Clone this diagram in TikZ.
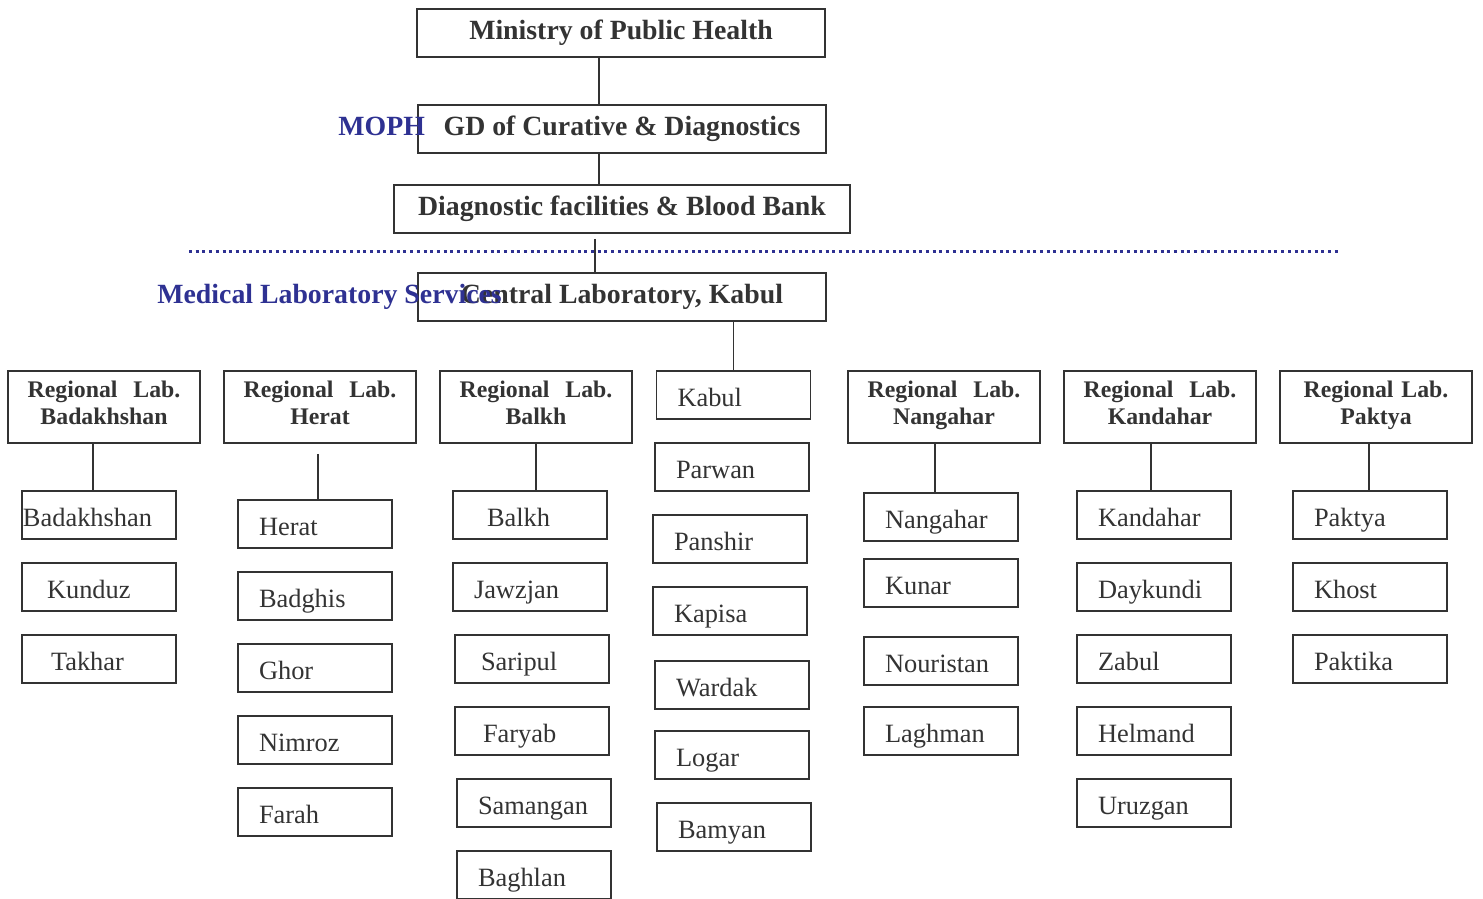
\documentclass[tikz,border=0pt]{standalone}
\usepackage{fontspec}
\setmainfont{Liberation Serif}
\usepackage{xcolor}
\usepackage{tikz}
\usetikzlibrary{positioning}
\definecolor{labblue}{HTML}{2E3192}
\definecolor{boxgray}{HTML}{333333}

\begin{document}
\begin{tikzpicture}[x=0.5pt, y=-0.5pt,
        every node/.style={text=boxgray},
        topbox/.style={draw=boxgray, line width=0.9pt, 
        minimum width=204pt, 
        minimum height=24pt, 
        inner sep=0pt,
        font=\fontsize{13.9}{16}\selectfont\bfseries},
        regbox/.style={draw=boxgray, line width=0.9pt, 
        minimum width=96pt, 
        minimum height=36pt, 
        text width=90pt, inner xsep=3pt, 
        text height=8pt, text depth=18pt,
        align=center,
        font=\fontsize{11.9}{13.5}\selectfont\bfseries},
        distbox/.style={draw=boxgray, line width=0.9pt, 
        minimum height=24pt, 
        text width=56pt, inner xsep=10.5pt, 
        text height=12pt, text depth=1pt,
        align=left,
        font=\fontsize{13.2}{15}\selectfont},
        bluelabel/.style={text=labblue, anchor=base west, inner sep=0pt,
        font=\fontsize{13.9}{16}\selectfont\bfseries},
        conn/.style={draw=boxgray, line width=0.9pt}]
        \useasboundingbox (0,0) rectangle (1483,899);
        % top of the chart
        \node[topbox] (ministry) at (621,33) {Ministry of Public Health};
        \node[topbox] (gd) at (622,129) {GD of Curative \& Diagnostics};
        \node[topbox, minimum width=228pt] (diag) at (622,209) {Diagnostic facilities \& Blood Bank};
        \node[topbox] (central) at (622,297) {Central Laboratory, Kabul};
        \draw[labblue, line width=1.5pt, dash pattern=on 1.5pt off 1.85pt] (189,251) -- (1340,251);
        \node[bluelabel] (moph) at (338,135) {MOPH};
        \node[bluelabel] (mls) at (157,303) {Medical Laboratory Services};
        \draw[conn] ([xshift=-11pt]ministry.south) -- ([xshift=-11pt]ministry.south |- gd.north);
        \draw[conn] ([xshift=-11.5pt]gd.south) -- ([xshift=-11.5pt]gd.south |- diag.north);
        \draw[conn] ([xshift=-13.5pt, yshift=-2.5pt]diag.south) -- ([xshift=-13.5pt]diag.south |- central.north);
        % regional labs
        \node[regbox] (rbadakhshan) at (104,407) {Regional\ \ Lab.\\Badakhshan};
        \node[regbox] (rherat) at (320,407) {Regional\ \ Lab.\\Herat};
        \node[regbox] (rbalkh) at (536,407) {Regional\ \ Lab.\\Balkh};
        \node[regbox] (rnangahar) at (944,407) {Regional\ \ Lab.\\Nangahar};
        \node[regbox] (rkandahar) at (1160,407) {Regional\ \ Lab.\\Kandahar};
        \node[regbox] (rpaktya) at (1376,407) {Regional Lab.\\Paktya};
        % provinces
        \node[distbox, inner xsep=0.5pt, text width=76pt] (badakhshan) at (99,515) {Badakhshan};
        \node[distbox] (kunduz) at (99,587) {\hspace*{2pt}Kunduz};
        \node[distbox] (takhar) at (99,659) {\hspace*{4pt}Takhar};
        \node[distbox] (herat) at (315,524) {Herat};
        \node[distbox] (badghis) at (315,596) {Badghis};
        \node[distbox] (ghor) at (315,668) {Ghor};
        \node[distbox] (nimroz) at (315,740) {Nimroz};
        \node[distbox] (farah) at (315,812) {Farah};
        \node[distbox] (balkh) at (530,515) {\hspace*{6.5pt}Balkh};
        \node[distbox] (jawzjan) at (530,587) {Jawzjan};
        \node[distbox] (saripul) at (532,659) {\hspace*{2.5pt}Saripul};
        \node[distbox] (faryab) at (532,731) {\hspace*{3.5pt}Faryab};
        \node[distbox] (samangan) at (534,803) {Samangan};
        \node[distbox] (baghlan) at (534,875) {Baghlan};
        \node[distbox] (kabul) at (733.5,395) {Kabul};
        \node[distbox] (parwan) at (732,467) {Parwan};
        \node[distbox] (panshir) at (730,539) {Panshir};
        \node[distbox] (kapisa) at (730,611) {Kapisa};
        \node[distbox] (wardak) at (732,685) {Wardak};
        \node[distbox] (logar) at (732,755) {Logar};
        \node[distbox] (bamyan) at (734,827) {Bamyan};
        \node[distbox] (nangahar) at (941,517) {Nangahar};
        \node[distbox] (kunar) at (941,583) {Kunar};
        \node[distbox] (nouristan) at (941,661) {Nouristan};
        \node[distbox] (laghman) at (941,731) {Laghman};
        \node[distbox] (kandahar) at (1154,515) {Kandahar};
        \node[distbox] (daykundi) at (1154,587) {Daykundi};
        \node[distbox] (zabul) at (1154,659) {Zabul};
        \node[distbox] (helmand) at (1154,731) {Helmand};
        \node[distbox] (uruzgan) at (1154,803) {Uruzgan};
        \node[distbox] (paktya) at (1370,515) {Paktya};
        \node[distbox] (khost) at (1370,587) {Khost};
        \node[distbox] (paktika) at (1370,659) {Paktika};
        % connectors
        \draw[conn] (central.south -| kabul.north) -- (kabul.north);
        \draw[conn] ([xshift=-5.5pt]rbadakhshan.south) -- ([xshift=-5.5pt]rbadakhshan.south |- badakhshan.north);
        \draw[conn] ([xshift=-1pt, yshift=-5pt]rherat.south) -- ([xshift=-1pt]rherat.south |- herat.north);
        \draw[conn] (rbalkh.south) -- (rbalkh.south |- balkh.north);
        \draw[conn] ([xshift=-4.5pt]rnangahar.south) -- ([xshift=-4.5pt]rnangahar.south |- nangahar.north);
        \draw[conn] ([xshift=-4.5pt]rkandahar.south) -- ([xshift=-4.5pt]rkandahar.south |- kandahar.north);
        \draw[conn] ([xshift=-3.5pt]rpaktya.south) -- ([xshift=-3.5pt]rpaktya.south |- paktya.north);
    \end{tikzpicture}
\end{document}
